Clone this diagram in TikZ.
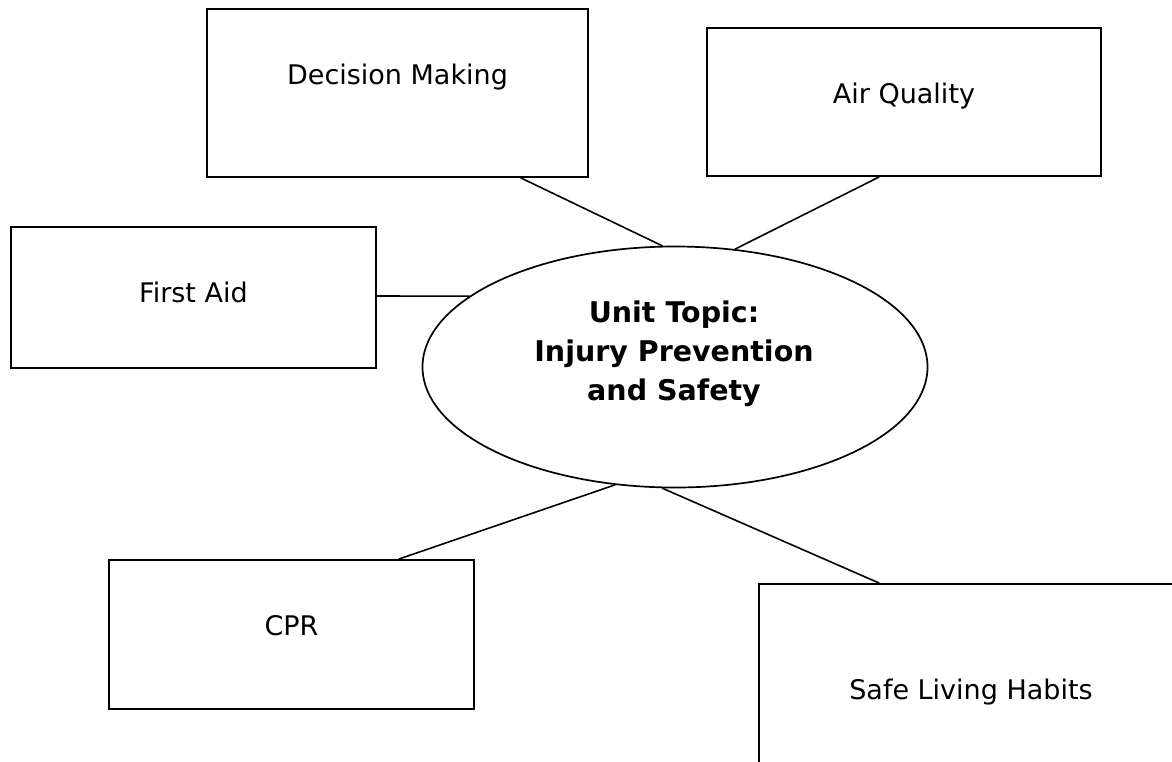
\documentclass[tikz,border=0pt]{standalone}
\usepackage{fontspec}
\setmainfont{DejaVu Sans}
\usetikzlibrary{calc,shapes.geometric}
\definecolor{ink}{HTML}{000000}

\begin{document}
\begin{tikzpicture}[x=1pt,y=-1pt,line cap=round,
    box/.style={draw=ink,line width=2pt,inner sep=0pt,anchor=north west,
                text height=75pt,font=\fontsize{27}{32}\selectfont},
    unit/.style={ellipse,draw=ink,line width=1.7pt,inner sep=0pt,
                 minimum width=505pt,minimum height=241pt},
    link/.style={ink,line width=1.6pt}]
  \useasboundingbox (0,0) rectangle (1172,761);
  \clip (0,0) rectangle (1172,761);
  % centre topic
  \node[unit] (unit) at (675,367) {};
  \node[font=\bfseries\fontsize{28.5}{39}\selectfont,align=center] (unitlbl) at (674,354)
       {Unit Topic:\\Injury Prevention\\and Safety};
  % sub topics
  \node[box,minimum width=381pt,text depth=93pt] (dm) at (206,8)   {Decision Making};
  \node[box,minimum width=394pt,text depth=73pt] (aq) at (706,27)  {Air Quality};
  \node[box,minimum width=365pt,text depth=66pt] (fa) at (10,226)  {First Aid};
  \node[box,minimum width=365pt,text depth=74pt] (cp) at (108,559) {CPR};
  \node[box,minimum width=424pt,text height=115pt,text depth=102pt] (sl) at (758,583)
       {Safe Living Habits};
  % connectors
  \coordinate (dmE) at ([xshift=123.5pt]dm.south);
  \coordinate (aqE) at ([xshift=-25pt]aq.south);
  \coordinate (faE) at ([yshift=1.5pt]fa.east);
  \coordinate (cpE) at ([xshift=107.5pt]cp.north);
  \coordinate (slE) at ([xshift=-92pt]sl.north);
  \foreach \a/\b in {dmE/unit.96, aqE/unit.63, faE/unit.161, cpE/unit.243, slE/unit.264}{
    \draw[link] (\a) -- (\b);
  }
\end{tikzpicture}
\end{document}
